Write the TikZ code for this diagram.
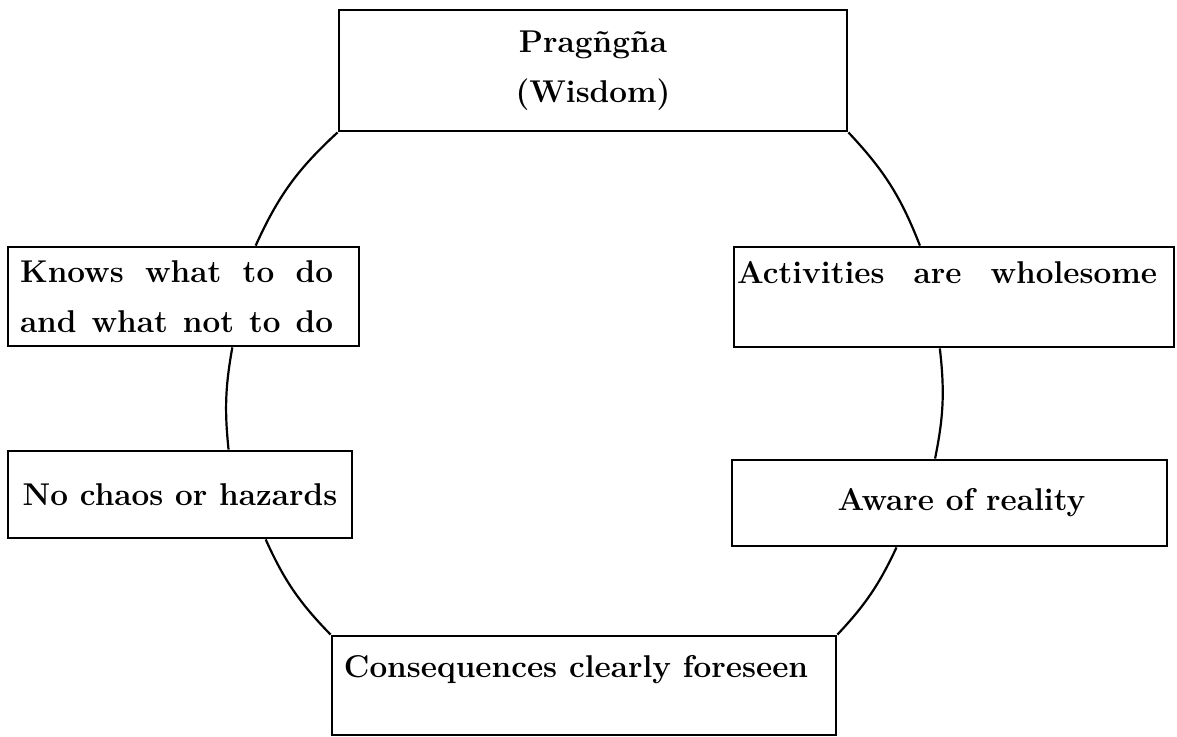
\documentclass[tikz,border=0pt]{standalone}
\usetikzlibrary{calc}
\begin{document}
\begin{tikzpicture}[x=1pt,y=-1pt,
  box/.style={draw, line width=2.8pt, inner sep=0pt, align=center,
    font=\fontsize{31.5}{50}\selectfont\bfseries},
  arcline/.style={line width=2.2pt}]
\useasboundingbox (0,0) rectangle (1177,736);
\node[box, minimum width=508pt, minimum height=121pt] (wis) at (593,70.5) {Pragñgña\\(Wisdom)};
\node[box, minimum width=351pt, minimum height=99pt] (knows) at (183.5,296.5)
  {\makebox[313pt][s]{Knows what to do}\hspace*{14pt}\\\makebox[313pt][s]{and what not to do}\hspace*{14pt}};
\node[box, minimum width=440pt, minimum height=100pt] (act) at (954,297)
  {\makebox[420pt][s]{Activities are wholesome}\hspace*{14pt}\\\mbox{}};
\node[box, minimum width=344pt, minimum height=87pt] (chaos) at (180,494.5) {No chaos or hazards};
\node[box, minimum width=435pt, minimum height=86pt] (aware) at (949.5,503) {\hspace*{24pt}Aware of reality};
\node[box, minimum width=504pt, minimum height=99pt] (cons) at (584,685.5)
  {Consequences clearly foreseen\hspace*{16pt}\\[-12pt]\mbox{}};
% left arcs
\draw[arcline] (wis.south west) to[bend right=11.5] ($(knows.north west)!0.704!(knows.north east)$);
\draw[arcline] ($(knows.south west)!0.638!(knows.south east)$) to[bend right=8] ($(chaos.north west)!0.64!(chaos.north east)$);
\draw[arcline] ($(chaos.south west)!0.747!(chaos.south east)$) to[bend right=10] (cons.north west);
% right arcs
\draw[arcline] (wis.south east) to[bend left=11] ($(act.north west)!0.423!(act.north east)$);
\draw[arcline] ($(act.south west)!0.468!(act.south east)$) to[bend left=9] ($(aware.north west)!0.467!(aware.north east)$);
\draw[arcline] ($(aware.south west)!0.379!(aware.south east)$) to[bend left=9] (cons.north east);
\end{tikzpicture}
\end{document}
